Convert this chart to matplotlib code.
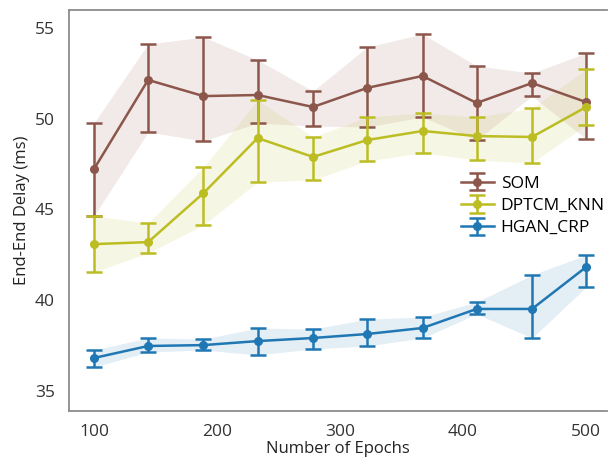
"""
End-End delay vs number of epochs (mean with error bars and shaded band)
"""

import matplotlib
matplotlib.use("Agg")
import matplotlib.pyplot as plt

# 0. Data
epochs = [100, 144, 189, 233, 278, 322, 367, 411, 456, 500]

som_mean  = [47.22, 52.13, 51.24, 51.30, 50.64, 51.69, 52.35, 50.86, 51.96, 50.91]
som_upper = [49.76, 54.11, 54.49, 53.23, 51.52, 53.94, 54.66, 52.90, 52.51, 53.61]
som_lower = [44.64, 49.26, 48.77, 49.76, 49.59, 49.54, 50.09, 48.82, 51.24, 48.88]

knn_mean  = [43.09, 43.20, 45.90, 48.93, 47.89, 48.82, 49.32, 49.04, 48.99, 50.64]
knn_upper = [44.64, 44.25, 47.33, 51.02, 48.99, 50.09, 50.31, 50.09, 50.58, 52.73]
knn_lower = [41.55, 42.60, 44.14, 46.51, 46.62, 47.67, 48.11, 47.72, 47.56, 49.65]

crp_mean  = [36.82, 37.48, 37.53, 37.75, 37.92, 38.14, 38.47, 39.52, 39.52, 41.83]
crp_upper = [37.26, 37.92, 37.86, 38.47, 38.41, 38.96, 39.07, 39.90, 41.39, 42.49]
crp_lower = [36.32, 37.15, 37.26, 36.99, 37.32, 37.48, 37.92, 39.24, 37.92, 40.73]

labels = ["SOM", "DPTCM_KNN", "HGAN_CRP"]
colors = ["tab:brown", "tab:olive", "tab:blue"]

plt.rcParams['font.family'] = ['Open Sans', 'DejaVu Sans']

# 1. Figure and axes
fig = plt.figure(figsize=(6.08, 4.66), dpi=100)
ax = fig.add_axes([0.1135, 0.118, 0.885, 0.8605])

series = [
    (som_mean, som_lower, som_upper),
    (knn_mean, knn_lower, knn_upper),
    (crp_mean, crp_lower, crp_upper),
]

for (mean, lower, upper), label, color in zip(series, labels, colors):
    yerr = [[m - lo for m, lo in zip(mean, lower)],
            [up - m for m, up in zip(mean, upper)]]
    ax.fill_between(epochs, lower, upper, color=color, alpha=0.12, linewidth=0)
    ax.errorbar(epochs, mean, yerr=yerr, color=color, marker='o', markersize=5.5,
                linewidth=1.8, elinewidth=1.8, capsize=5.5, capthick=1.8, label=label)

# 2. Axes styling
ax.set_xlim(79.7, 517)
ax.set_ylim(33.9, 55.98)
ax.set_xticks([100, 200, 300, 400, 500])
ax.set_yticks([35, 40, 45, 50, 55])
ax.tick_params(length=0, labelsize=12.5, labelcolor='#333333')
ax.tick_params(axis='y', pad=10)
ax.tick_params(axis='x', pad=9)

for side in ['left', 'bottom', 'top']:
    ax.spines[side].set_color('#8c8c8c')
    ax.spines[side].set_linewidth(1.3)
ax.spines['right'].set_visible(False)

ax.set_xlabel("Number of Epochs", fontsize=12, color='#222222', labelpad=1)
ax.set_ylabel("End-End Delay (ms)", fontsize=12, color='#222222', labelpad=4)

leg = ax.legend(loc='center left', bbox_to_anchor=(0.735, 0.558),
                bbox_transform=fig.transFigure, fontsize=12.5, frameon=True,
                framealpha=1, edgecolor='none', borderpad=0.3,
                handlelength=1.9, handletextpad=0.4, labelspacing=0.35)

fig.savefig("out.png", dpi=100)
plt.close(fig)
